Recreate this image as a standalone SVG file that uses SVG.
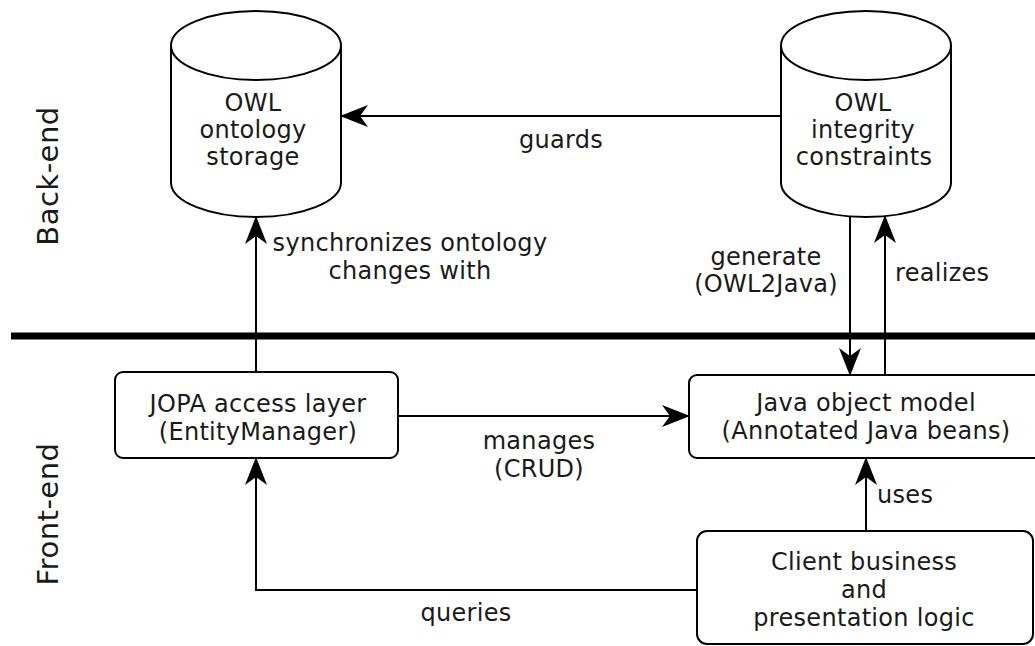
<svg xmlns="http://www.w3.org/2000/svg" width="1035" height="646" viewBox="0 0 1035 646">
<style>
text{font-family:"DejaVu Sans","Liberation Sans",sans-serif;font-size:24px;letter-spacing:0.3px;fill:#1a1a1a}
.c{text-anchor:middle}
.side{font-size:29px;text-anchor:middle;letter-spacing:0.5px}
.shape{fill:#fff;stroke:#000;stroke-width:2}
.edge{fill:none;stroke:#000;stroke-width:2}
</style>
<defs>
<marker id="arr" markerUnits="userSpaceOnUse" markerWidth="30" markerHeight="24" refX="27" refY="12" orient="auto" viewBox="0 0 30 24">
<path d="M0,1 L28,12 L0,23 L8,12 z" fill="#000"/>
</marker>
</defs>
<rect width="1035" height="646" fill="#fff"/>
<g id="labels-side">
<text class="side" transform="translate(58,176) rotate(-90)">Back-end</text>
<text class="side" transform="translate(58,514) rotate(-90)">Front-end</text>
</g>
<path id="divider" d="M11,336 L1035,336" stroke="#000" stroke-width="7"/>
<g id="connectors">
<path class="edge" d="M781,116 L341,116" marker-end="url(#arr)"/>
<path class="edge" d="M256,372 L256,217" marker-end="url(#arr)"/>
<path class="edge" d="M850,216 L850,375" marker-end="url(#arr)"/>
<path class="edge" d="M885,375 L885,216" marker-end="url(#arr)"/>
<path class="edge" d="M398,416 L689,416" marker-end="url(#arr)"/>
<path class="edge" d="M866,531 L866,458" marker-end="url(#arr)"/>
<path class="edge" d="M697,590 L256,590 L256,458" marker-end="url(#arr)"/>
<text class="c" x="561" y="148">guards</text>
<text class="c" x="410" y="251">synchronizes ontology</text>
<text class="c" x="410" y="279">changes with</text>
<text class="c" x="766" y="265">generate</text>
<text class="c" x="766" y="292">(OWL2Java)</text>
<text x="895" y="281">realizes</text>
<text class="c" x="539" y="449">manages</text>
<text class="c" x="539" y="477">(CRUD)</text>
<text x="877" y="503">uses</text>
<text class="c" x="466" y="621">queries</text>
</g>
<g id="owl-storage">
<path class="shape" d="M171,45.5 L171,182.5 A85,34.5 0 0 0 341,182.5 L341,45.5"/>
<ellipse class="shape" cx="256" cy="45.5" rx="85" ry="34.5"/>
<text class="c" x="253" y="111">OWL</text>
<text class="c" x="253" y="138">ontology</text>
<text class="c" x="253" y="165">storage</text>
</g>
<g id="owl-constraints">
<path class="shape" d="M781,45.5 L781,182.5 A85,34.5 0 0 0 951,182.5 L951,45.5"/>
<ellipse class="shape" cx="866" cy="45.5" rx="85" ry="34.5"/>
<text class="c" x="863" y="111">OWL</text>
<text class="c" x="863" y="138">integrity</text>
<text class="c" x="864" y="165">constraints</text>
</g>
<g id="jopa">
<rect class="shape" x="115" y="372" width="283" height="86" rx="8"/>
<text class="c" x="258" y="412">JOPA access layer</text>
<text class="c" x="258" y="440">(EntityManager)</text>
</g>
<g id="java-model">
<rect class="shape" x="689" y="375" width="360" height="83" rx="8"/>
<text class="c" x="866" y="411">Java object model</text>
<text class="c" x="866" y="439">(Annotated Java beans)</text>
</g>
<g id="client">
<rect class="shape" x="697" y="531" width="336" height="113" rx="10"/>
<text class="c" x="864" y="570">Client business</text>
<text class="c" x="864" y="598">and</text>
<text class="c" x="864" y="626">presentation logic</text>
</g>
</svg>
